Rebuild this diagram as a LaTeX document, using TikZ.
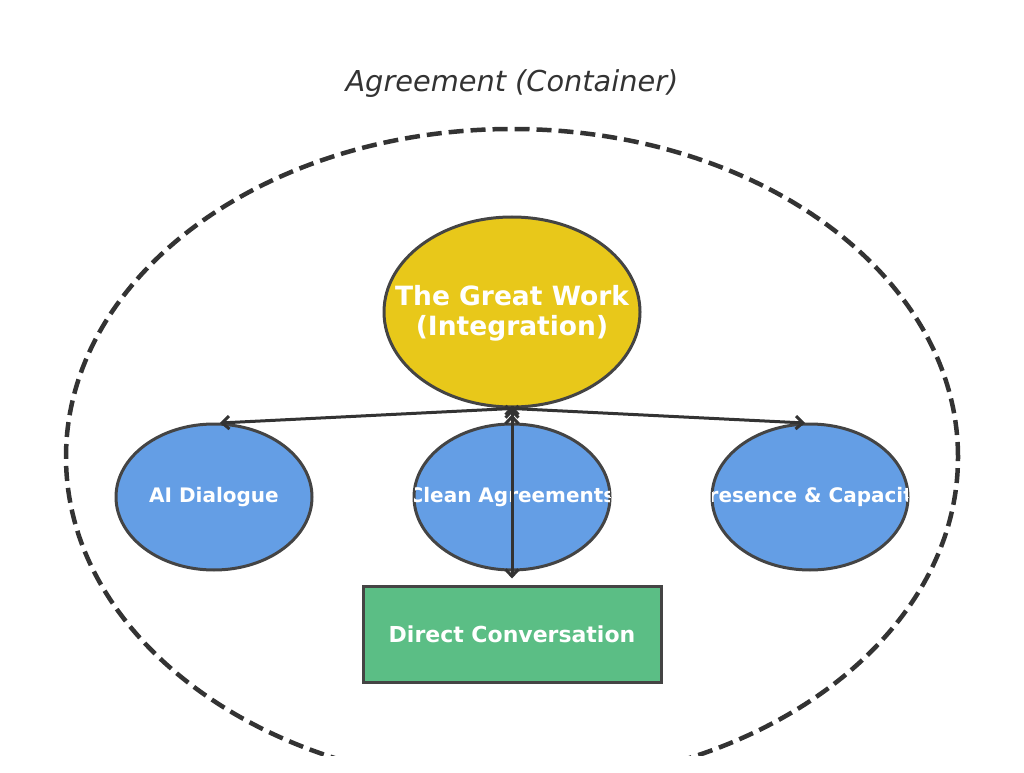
\documentclass[tikz,border=0pt]{standalone}
\usepackage{fontspec}
\setmainfont{DejaVu Sans}
\usetikzlibrary{shapes.geometric,arrows.meta}
\definecolor{edgegray}{HTML}{444444}
\definecolor{arrowgray}{HTML}{333333}
\definecolor{workyellow}{HTML}{E8C81A}
\definecolor{partblue}{HTML}{649EE5}
\definecolor{talkgreen}{HTML}{5BBE85}

\begin{document}
\begin{tikzpicture}[x=1pt,y=1pt,
    part/.style={ellipse,draw=edgegray,line width=3pt,fill=partblue,minimum width=196pt,minimum height=146pt,inner sep=0pt},
    parttext/.style={text=white,font=\fontsize{20}{24}\selectfont\bfseries},
    arr/.style={draw=arrowgray,line width=3pt,-{Straight Barb[length=7pt,width=13pt]}}]
  \useasboundingbox (0,0) rectangle (1024,772);
  \node[font=\fontsize{28.8}{34}\selectfont\itshape,text=arrowgray] (title) at (512,688) {Agreement (Container)};
  \begin{scope}
    \clip (0,17) rectangle (1024,772);
    \draw[arrowgray,line width=4.5pt,dash pattern=on 15pt off 7pt] (512,315) ellipse [x radius=446,y radius=328];
  \end{scope}

  \node[ellipse,draw=edgegray,line width=3pt,fill=workyellow,minimum width=256pt,minimum height=190pt,inner sep=0pt] (gw) at (512,460) {};
  \node[text=white,font=\fontsize{26.5}{30}\selectfont\bfseries,align=center] (gwtext) at (512,459) {The Great Work\\(Integration)};

  \node[part] (ai) at (214,275) {};
  \node[part] (ca) at (512,275) {};
  \node[part] (pc) at (810,275) {};
  \node[parttext] at (ai) {AI Dialogue};
  \begin{scope}
    \clip (ca.center) ellipse [x radius=98,y radius=73];
    \node[parttext] at (ca) {Clean Agreements};
  \end{scope}
  \begin{scope}
    \clip (pc.center) ellipse [x radius=98,y radius=73];
    \node[parttext] at (pc) {Presence \& Capacity};
  \end{scope}

  \node[draw=edgegray,line width=3pt,fill=talkgreen,minimum width=298pt,minimum height=96pt,inner sep=0pt,text=white,font=\fontsize{22}{26}\selectfont\bfseries] (dc) at (512,138) {Direct Conversation};

  \coordinate (aitip) at (220,349);
  \coordinate (pctip) at (805,349);
  \coordinate (catip) at (512,357);
  \path[arr] (gw.south) edge (aitip) (gw.south) edge (pctip);
  \path[arr,shorten >=6pt] (gw.south) edge (dc.north);
  \path[arr] ([yshift=3pt]gw.south) edge (catip);
\end{tikzpicture}
\end{document}
